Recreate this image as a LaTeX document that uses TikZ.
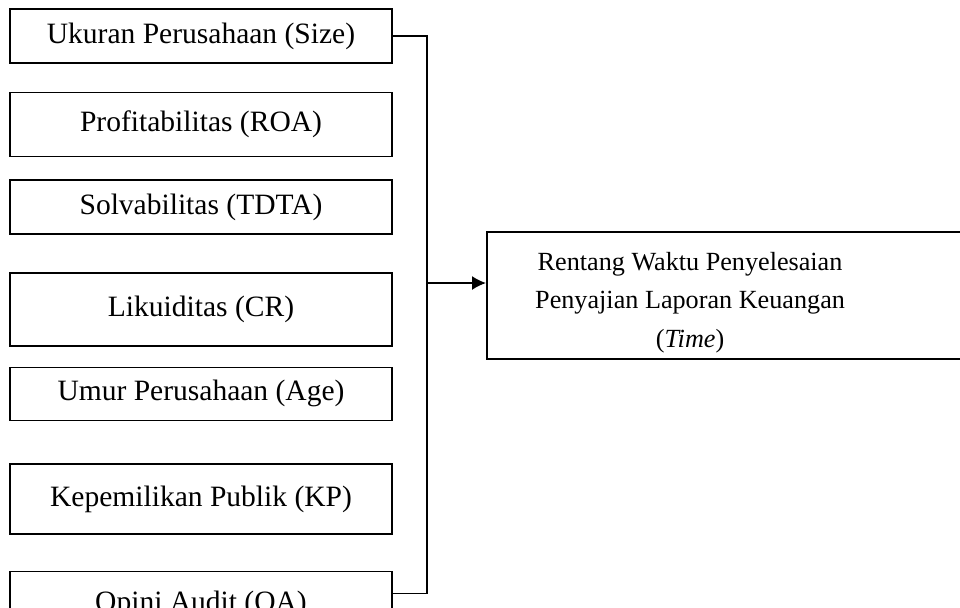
\documentclass[tikz,border=0pt]{standalone}
\usepackage{fontspec}
\setmainfont{Liberation Serif}
\usepackage{tikz}
\usetikzlibrary{arrows.meta,positioning}

\begin{document}
\begin{tikzpicture}[
    varbox/.style={rectangle, draw=black, line width=0.9pt, minimum width=7.64cm, align=center, font=\fontsize{16.8}{20}\selectfont},
    outbox/.style={rectangle, draw=black, line width=0.9pt, minimum width=12cm, minimum height=2.54cm},
    line/.style={line width=0.9pt},
    arrow/.style={-{Latex[length=0.28cm,width=0.28cm]}, line width=0.9pt}
]
    \clip (0,0) rectangle (19.2,-12.14);

    % variabel independen
    \node[varbox, minimum height=1.08cm] (size) at (4.02,-0.72) {Ukuran Perusahaan (Size)};
    \node[varbox, minimum height=1.28cm, below=0.56cm of size] (roa) {Profitabilitas (ROA)};
    \node[varbox, minimum height=1.08cm, below=0.44cm of roa] (tdta) {Solvabilitas (TDTA)};
    \node[varbox, minimum height=1.46cm, below=0.74cm of tdta] (cr) {Likuiditas (CR)};
    \node[varbox, minimum height=1.06cm, below=0.40cm of cr] (age) {Umur Perusahaan (Age)};
    \node[varbox, minimum height=1.40cm, below=0.84cm of age] (kp) {Kepemilikan Publik (KP)};
    \node[varbox, minimum height=1.32cm, below=0.72cm of kp] (oa) {Opini Audit (OA)};

    % variabel dependen
    \node[outbox, anchor=west] (time) at (9.72,-5.91) {};
    \node[align=center, font=\fontsize{14.9}{22}\selectfont, right=0.86cm of time.west, yshift=-0.14cm] (timetext)
        {Rentang Waktu Penyelesaian\\Penyajian Laporan Keuangan\\(\textit{Time})};

    \coordinate (bus) at (8.54,-5.66);
    \draw[line] (size.east) -| (bus) |- ([yshift=0.22cm]oa.east);
    \draw[arrow] (bus) -- (bus -| time.west);
\end{tikzpicture}
\end{document}
